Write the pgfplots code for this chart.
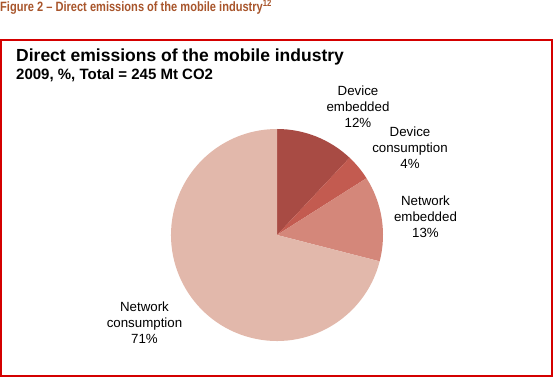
\documentclass[border=0pt]{standalone}
\usepackage{graphicx}
\usepackage{pgfplots}
\pgfplotsset{compat=1.18}
\usepackage{fontspec}
\setmainfont{Liberation Sans}
\definecolor{capc}{HTML}{A8552B}
\definecolor{boxred}{HTML}{D40000}
\definecolor{sA}{HTML}{A84B44}
\definecolor{sB}{HTML}{C35B50}
\definecolor{sC}{HTML}{D4877A}
\definecolor{sD}{HTML}{E2B8AB}
\newcommand\lbl{\fontsize{13.3}{16}\selectfont}
\begin{document}
\begin{tikzpicture}
\useasboundingbox (0,0) rectangle (553pt,377pt);
\begin{axis}[at={(0pt,0pt)}, anchor=south west, width=553pt, height=377pt,
  scale only axis, xmin=0, xmax=553, ymin=0, ymax=377, hide axis, clip=false]
\draw[boxred, line width=1.3pt] (axis cs:1,1) rectangle (axis cs:552,337);
% pie: shares in percent, clockwise from 12 o'clock
\pgfmathsetmacro\pieang{90}
\foreach \v/\c in {12/sA, 4/sB, 13/sC, 71/sD}{
  \pgfmathsetmacro\pieend{\pieang-3.6*\v}
  \edef\tmp{\noexpand\fill[\c] (axis cs:277,142) -- ++(\pieang:106pt) arc[start angle=\pieang, end angle=\pieend, radius=106pt] -- cycle;}
  \tmp
  \global\let\pieang\pieend
}
\node[anchor=base west, inner sep=0, text=capc] at (axis cs:0,365)
  {\fontsize{13.5}{16}\selectfont\bfseries\scalebox{0.82}[1]{Figure 2 -- Direct emissions of the mobile industry\textsuperscript{12}}};
\node[anchor=base west, inner sep=0] at (axis cs:16,315)
  {\fontsize{17.5}{20}\selectfont\bfseries Direct emissions of the mobile industry};
\node[anchor=base west, inner sep=0] at (axis cs:16,297)
  {\fontsize{15}{17}\selectfont\bfseries 2009, \%, Total = 245 Mt CO2};
\node[anchor=base, align=center, inner sep=0, font=\lbl] at (axis cs:358,249) {Device\\embedded\\12\%};
\node[anchor=base, align=center, inner sep=0, font=\lbl] at (axis cs:410,208) {Device\\consumption\\4\%};
\node[anchor=base, align=center, inner sep=0, font=\lbl] at (axis cs:425.5,139) {Network\\embedded\\13\%};
\node[anchor=base, align=center, inner sep=0, font=\lbl] at (axis cs:144.5,33) {Network\\consumption\\71\%};
\end{axis}
\end{tikzpicture}
\end{document}
